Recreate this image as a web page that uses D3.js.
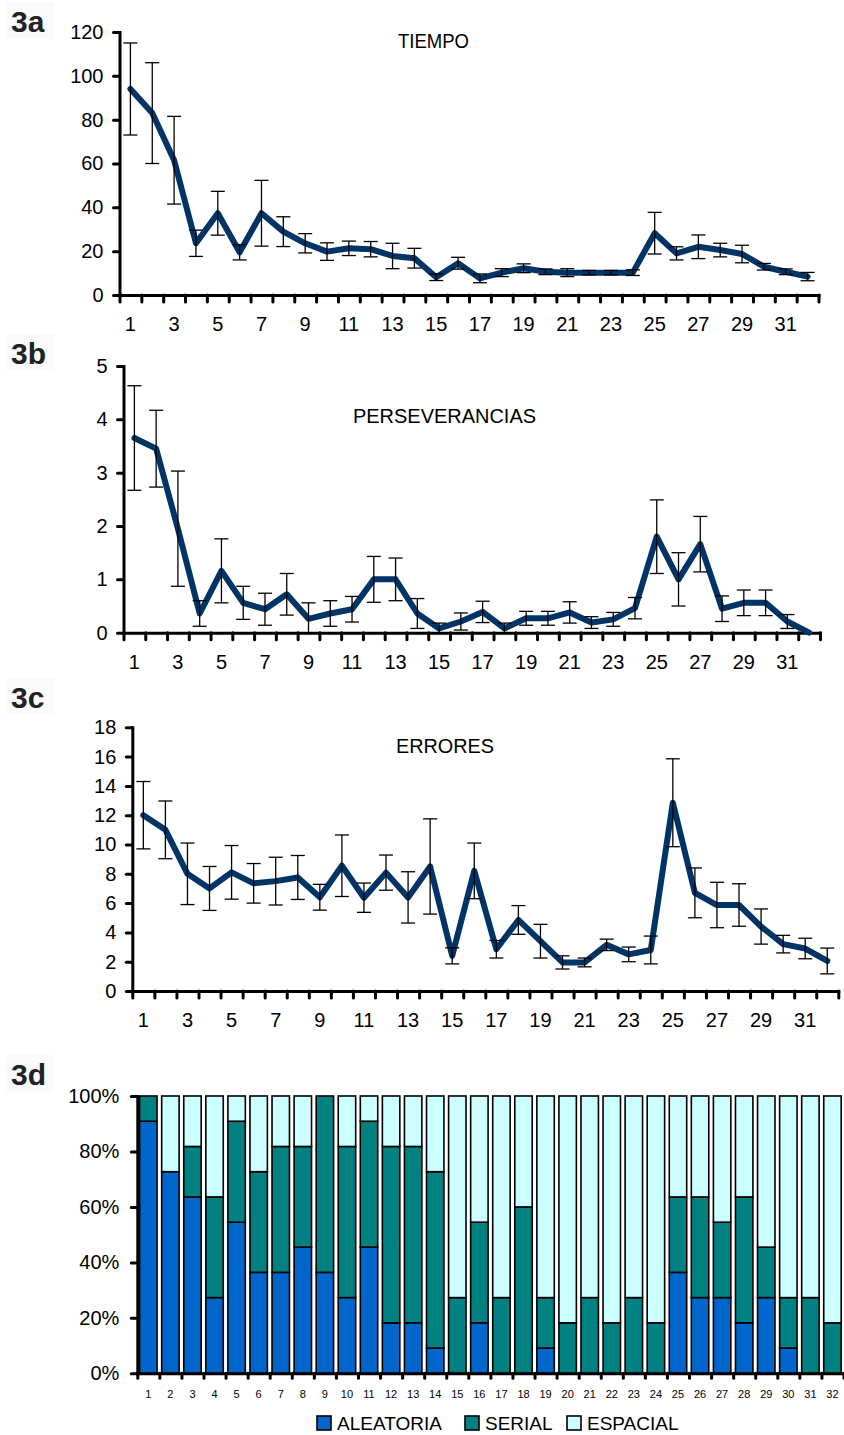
<!DOCTYPE html>
<html>
<head>
<meta charset="utf-8">
<script src="https://cdn.jsdelivr.net/npm/d3@7"></script>
<style>
  body { margin: 0; background: #fff; }
  svg { display: block; font-family: "Liberation Sans", Arial, sans-serif; }
</style>
</head>
<body>
<svg id="chart" width="844" height="1435"></svg>
<script>
// Sessions 1..32
const sessions = d3.range(1, 33);

// 3a – TIEMPO (mean and error)
const tiempoMean = [94, 83, 61.5, 23.6, 37.3, 19.5, 37.3, 28.9, 23.6, 19.8, 21.3, 20.9, 17.8, 16.8, 8.1, 14.5,
                    7.6, 10.2, 12.2, 10.6, 10.2, 10.2, 10.2, 10.2, 28.2, 19, 22, 20.5, 18.7, 12.9, 10.6, 8.4];
const tiempoErr  = [21, 23, 20, 6, 10, 3.5, 15, 6.8, 4.4, 4, 3.3, 3.5, 5.8, 4.5, 1.5, 2.7,
                    2, 1.8, 2, 1.3, 1.8, 1, 1, 1.3, 9.5, 3, 5.4, 3.1, 4, 1.5, 1.3, 1.9];

// 3b – PERSEVERANCIAS
const persevMean = [3.65, 3.45, 1.95, 0.36, 1.16, 0.56, 0.44, 0.72, 0.26, 0.36, 0.44, 1.0, 1.0, 0.36, 0.08, 0.21,
                    0.39, 0.08, 0.27, 0.27, 0.38, 0.19, 0.25, 0.46, 1.8, 1.0, 1.66, 0.45, 0.56, 0.56, 0.21, 0.0];
const persevErr  = [0.98, 0.72, 1.08, 0.24, 0.6, 0.31, 0.3, 0.39, 0.3, 0.24, 0.24, 0.43, 0.4, 0.28, 0.1, 0.16,
                    0.2, 0.1, 0.13, 0.13, 0.2, 0.11, 0.13, 0.2, 0.69, 0.5, 0.52, 0.24, 0.24, 0.24, 0.13, 0];

// 3c – ERRORES
const erroresMean = [12.0, 11.0, 8.0, 7.0, 8.1, 7.35, 7.5, 7.75, 6.4, 8.55, 6.37, 8.08, 6.39, 8.5, 2.4, 8.2,
                     2.85, 4.85, 3.4, 1.95, 1.95, 3.15, 2.5, 2.8, 12.85, 6.7, 5.87, 5.87, 4.4, 3.2, 2.9, 2.05];
const erroresErr  = [2.3, 1.97, 2.1, 1.5, 1.83, 1.35, 1.63, 1.5, 0.88, 2.1, 1.0, 1.2, 1.75, 3.25, 0.55, 1.9,
                     0.6, 0.98, 1.15, 0.45, 0.3, 0.39, 0.5, 0.95, 3.0, 1.7, 1.55, 1.45, 1.2, 0.6, 0.7, 0.88];

// 3d – error type percentages
const aleatoria = [90.9, 72.7, 63.6, 27.3, 54.5, 36.4, 36.4, 45.5, 36.4, 27.3, 45.5, 18.2, 18.2, 9.1, 0, 18.2,
                   0, 0, 9.1, 0, 0, 0, 0, 0, 36.4, 27.3, 27.3, 18.2, 27.3, 9.1, 0, 0];
const serial    = [9.1, 0, 18.2, 36.3, 36.4, 36.3, 45.4, 36.3, 63.6, 54.5, 45.4, 63.6, 63.6, 63.6, 27.3, 36.3,
                   27.3, 60, 18.2, 18.2, 27.3, 18.2, 27.3, 18.2, 27.2, 36.3, 27.2, 45.4, 18.2, 18.2, 27.3, 18.2];
const espacial  = [0, 27.3, 18.2, 36.4, 9.1, 27.3, 18.2, 18.2, 0, 18.2, 9.1, 18.2, 18.2, 27.3, 72.7, 45.5,
                   72.7, 40, 72.7, 81.8, 72.7, 81.8, 72.7, 81.8, 36.4, 36.4, 45.5, 36.4, 54.5, 72.7, 72.7, 81.8];
const typeKeys   = ["ALEATORIA", "SERIAL", "ESPACIAL"];
const typeColors = ["#0066CC", "#008080", "#CCFFFF"];
const pctTicks   = [0, 20, 40, 60, 80, 100];

const svg = d3.select("#chart");
const LINE_COLOR = "#003366";

function styleAxis(g, fontSize) {
  g.select(".domain").attr("stroke", "#000").attr("stroke-width", 3).attr("stroke-linecap", "square");
  g.selectAll(".tick line").attr("stroke", "#000").attr("stroke-width", 3).attr("stroke-linecap", "round");
  g.selectAll(".tick text").attr("font-size", fontSize).attr("fill", "#000")
    .attr("font-family", "Liberation Sans, Arial, sans-serif");
}

function panelLabel(text, baseline) {
  svg.append("rect").attr("x", 6).attr("y", baseline - 30).attr("width", 48).attr("height", 37)
    .attr("fill", "#fafafa");
  svg.append("text").attr("x", 11).attr("y", baseline).text(text)
    .attr("font-size", 30).attr("font-weight", "bold").attr("fill", "#222");
}

function linePanel(o) {
  const g = svg.append("g");
  const y = d3.scaleLinear().domain([0, o.yMax]).range([o.yBase, o.yTop]);
  const xBand = d3.scaleBand().domain(sessions).range([o.x0, o.x1]);
  const xEdge = d3.scaleLinear().domain([0, sessions.length]).range([o.x0, o.x1]);
  const cx = d => xBand(d) + xBand.bandwidth() / 2;

  // y axis
  const ya = g.append("g").attr("transform", `translate(${o.x0},0)`)
    .call(d3.axisLeft(y).tickValues(d3.range(0, o.yMax + o.yStep / 2, o.yStep))
      .tickFormat(d3.format("d")).tickSize(6).tickSizeOuter(0).tickPadding(10));
  styleAxis(ya, 20);

  // x axis: ticks at category boundaries
  const xa = g.append("g").attr("transform", `translate(0,${o.yBase})`)
    .call(d3.axisBottom(xEdge).tickValues(d3.range(0, sessions.length + 1))
      .tickFormat("").tickSize(7).tickSizeOuter(0));
  styleAxis(xa, 20);

  // category labels (every other session)
  g.append("g").selectAll("text").data(sessions.filter(d => d % 2 === 1)).join("text")
    .attr("x", d => cx(d)).attr("y", o.yBase + 22).attr("dy", "0.71em")
    .attr("text-anchor", "middle").attr("font-size", 20).text(d => d);

  // mean line
  const pts = sessions.map((s, i) => ({ s, m: o.mean[i], e: o.err[i] }));
  g.append("path").datum(pts)
    .attr("d", d3.line().x(d => cx(d.s)).y(d => y(d.m)))
    .attr("fill", "none").attr("stroke", LINE_COLOR).attr("stroke-width", 6)
    .attr("stroke-linejoin", "round").attr("stroke-linecap", "round");

  // error bars
  const eb = g.append("g").attr("stroke", "#000").attr("stroke-width", 1.3);
  pts.filter(d => d.e > 0).forEach(d => {
    const x = cx(d.s);
    const lo = Math.max(0, d.m - d.e), hi = d.m + d.e;
    eb.append("line").attr("x1", x).attr("x2", x).attr("y1", y(lo)).attr("y2", y(hi));
    eb.append("line").attr("x1", x - 7).attr("x2", x + 7).attr("y1", y(hi)).attr("y2", y(hi));
    if (d.m - d.e > 0)
      eb.append("line").attr("x1", x - 7).attr("x2", x + 7).attr("y1", y(lo)).attr("y2", y(lo));
  });

  // panel title
  g.append("text").attr("x", o.titleX).attr("y", o.titleY).text(o.title)
    .attr("font-size", 20).attr("textLength", o.titleLen).attr("lengthAdjust", "spacingAndGlyphs");

  panelLabel(o.label, o.labelY);
}

linePanel({ mean: tiempoMean, err: tiempoErr, yMax: 120, yStep: 20,
  x0: 119.5, x1: 818.5, yTop: 32, yBase: 295,
  title: "TIEMPO", titleX: 398, titleY: 48, titleLen: 71, label: "3a", labelY: 32 });

linePanel({ mean: persevMean, err: persevErr, yMax: 5, yStep: 1,
  x0: 123.5, x1: 820, yTop: 366, yBase: 632.7,
  title: "PERSEVERANCIAS", titleX: 353, titleY: 423, titleLen: 183, label: "3b", labelY: 364 });

linePanel({ mean: erroresMean, err: erroresErr, yMax: 18, yStep: 2,
  x0: 132.3, x1: 838.3, yTop: 727.3, yBase: 991,
  title: "ERRORES", titleX: 396, titleY: 753, titleLen: 98, label: "3c", labelY: 708 });

// 3d – stacked 100% bars
(function () {
  const x0 = 137.3, x1 = 843.5, yTop = 1096, yBase = 1373.3;
  const g = svg.append("g");
  const y = d3.scaleLinear().domain([0, 100]).range([yBase, yTop]);
  const x = d3.scaleBand().domain(sessions).range([x0, x1]).paddingInner(0.21).paddingOuter(0.105);
  const xEdge = d3.scaleLinear().domain([0, sessions.length]).range([x0, x1]);

  const rows = sessions.map((s, i) => ({ s, ALEATORIA: aleatoria[i], SERIAL: serial[i], ESPACIAL: espacial[i] }));
  const stack = d3.stack().keys(typeKeys)(rows);

  stack.forEach((layer, k) => {
    g.append("g").selectAll("rect").data(layer.filter(d => d[1] - d[0] > 0)).join("rect")
      .attr("x", d => x(d.data.s)).attr("width", x.bandwidth())
      .attr("y", d => y(d[1])).attr("height", d => y(d[0]) - y(d[1]))
      .attr("fill", typeColors[k]).attr("stroke", "#000").attr("stroke-width", 1.6);
  });

  const ya = g.append("g").attr("transform", `translate(${x0},0)`)
    .call(d3.axisLeft(y).tickValues(pctTicks).tickFormat(d => d + "%")
      .tickSize(6).tickSizeOuter(0).tickPadding(12));
  styleAxis(ya, 20);

  const xa = g.append("g").attr("transform", `translate(0,${yBase})`)
    .call(d3.axisBottom(xEdge).tickValues(d3.range(0, sessions.length + 1))
      .tickFormat("").tickSize(5).tickSizeOuter(0));
  styleAxis(xa, 11);

  g.append("g").selectAll("text").data(sessions).join("text")
    .attr("x", d => x(d) + x.bandwidth() / 2).attr("y", 1398)
    .attr("text-anchor", "middle").attr("font-size", 11).text(d => d);

  // legend
  const legendX = [317, 465, 567];
  const lg = g.append("g");
  typeKeys.forEach((k, i) => {
    lg.append("rect").attr("x", legendX[i]).attr("y", 1416).attr("width", 14).attr("height", 14)
      .attr("fill", typeColors[i]).attr("stroke", "#000").attr("stroke-width", 1.6);
    lg.append("text").attr("x", legendX[i] + 20).attr("y", 1429.5).attr("font-size", 19).text(k);
  });

  panelLabel("3d", 1085);
})();
</script>
</body>
</html>
